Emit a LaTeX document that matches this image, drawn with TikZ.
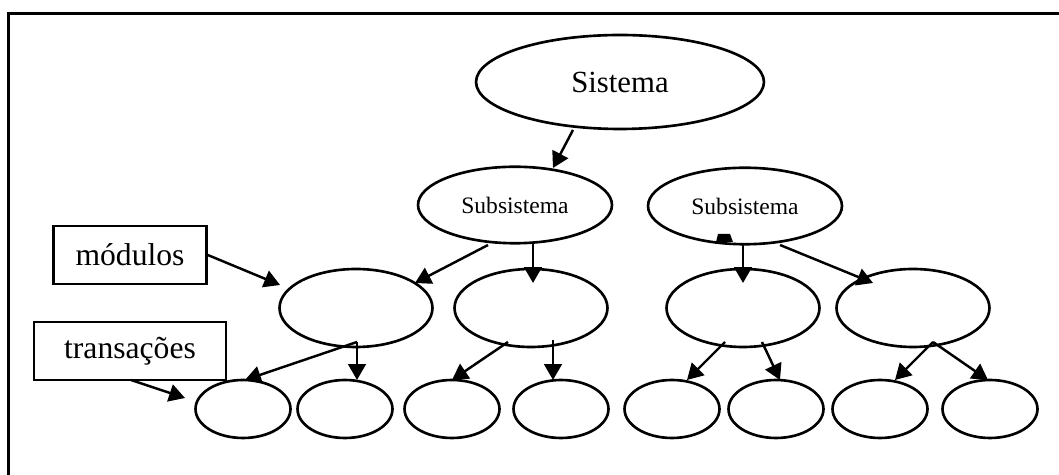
\documentclass[tikz,border=0pt]{standalone}
\usepackage{fontspec}
\setmainfont{Liberation Serif}
\usetikzlibrary{arrows.meta,shapes.geometric,positioning}
\tikzset{
  sist/.style={ellipse,draw=black,line width=1.5pt,inner sep=0pt,minimum width=5.76cm,minimum height=1.88cm,font=\fontsize{17.5}{20}\selectfont},
  subs/.style={ellipse,draw=black,line width=1.5pt,inner sep=0pt,minimum width=3.88cm,minimum height=1.53cm,font=\fontsize{13.4}{15}\selectfont},
  modl/.style={ellipse,draw=black,line width=1.5pt,inner sep=0pt,minimum width=3.06cm,minimum height=1.56cm},
  trans/.style={ellipse,draw=black,line width=1.5pt,inner sep=0pt,minimum width=1.9cm,minimum height=1.16cm},
  lbl/.style={rectangle,draw=black,line width=1.5pt,inner sep=0pt,minimum height=1.16cm,font=\fontsize{18}{21}\selectfont},
  line/.style={line width=1.4pt,-{Triangle[length=9pt,width=10pt]}},
}
\begin{document}
\begin{tikzpicture}[x=0.02cm,y=-0.02cm]
   \useasboundingbox (0,0) rectangle (1059,475);
   \draw[line width=1.8pt] (8.5,475) -- (8.5,13.5) -- (1059,13.5);

   \node[sist] (S) at (620,82) {Sistema};
   \node[subs] (SA) at (515,205) {Subsistema};
   \node[subs] (SB) at (745,206) {Subsistema};
   \node[modl] (M1) at (356,308) {};
   \node[modl] (M2) at (531,308) {};
   \node[modl] (M3) at (743,308) {};
   \node[modl] (M4) at (913,308) {};
   \node[trans] (T1) at (243,409) {};
   \node[trans] (T2) at (345,409) {};
   \node[trans] (T3) at (452,409) {};
   \node[trans] (T4) at (561,409) {};
   \node[trans] (T5) at (672,409) {};
   \node[trans] (T6) at (776,409) {};
   \node[trans] (T7) at (880,409) {};
   \node[trans] (T8) at (990,409) {};
   \node[lbl,minimum width=3.06cm] (Lmod) at (130,255) {módulos};
   \node[lbl,minimum width=3.84cm] (Ltr) at (130,351) {transações};

   % stray mark under the right subsystem
   \fill ([shift={(-27,28)}]SB.center) -- ([shift={(-15,28)}]SB.center)
         -- ([shift={(-12,36)}]SB.center) -- ([shift={(-29,36)}]SB.center) -- cycle;

  \path[line]
    ([shift={(-47,48)}]S.center) edge ([shift={(38,-37)}]SA.center)
    ([shift={(-27,40)}]SA.center) edge ([shift={(59,-25)}]M1.center)
    ([shift={(18,38)}]SA.center) edge ([shift={(2,-25)}]M2.center)
    ([shift={(-2,39)}]SB.center) edge ([shift={(0,-25)}]M3.center)
    ([shift={(35,39)}]SB.center) edge ([shift={(-40,-25)}]M4.center)
    ([shift={(1,34)}]M1.center) edge ([shift={(2,-29)}]T1.center)
    ([shift={(1,34)}]M1.center) edge ([shift={(12,-29)}]T2.center)
    ([shift={(-23,34)}]M2.center) edge ([shift={(0,-29)}]T3.center)
    ([shift={(22,32)}]M2.center) edge ([shift={(-8,-29)}]T4.center)
    ([shift={(-18,34)}]M3.center) edge ([shift={(15,-29)}]T5.center)
    ([shift={(19,34)}]M3.center) edge ([shift={(4,-29)}]T6.center)
    ([shift={(20,34)}]M4.center) edge ([shift={(15,-29)}]T7.center)
    ([shift={(20,34)}]M4.center) edge ([shift={(-2,-29)}]T8.center)
    (Lmod.east) edge ([shift={(-76,-23)}]M1.center)
    ([shift={(1,29)}]Ltr.center) edge ([shift={(-58,-11)}]T1.center);
\end{tikzpicture}
\end{document}
